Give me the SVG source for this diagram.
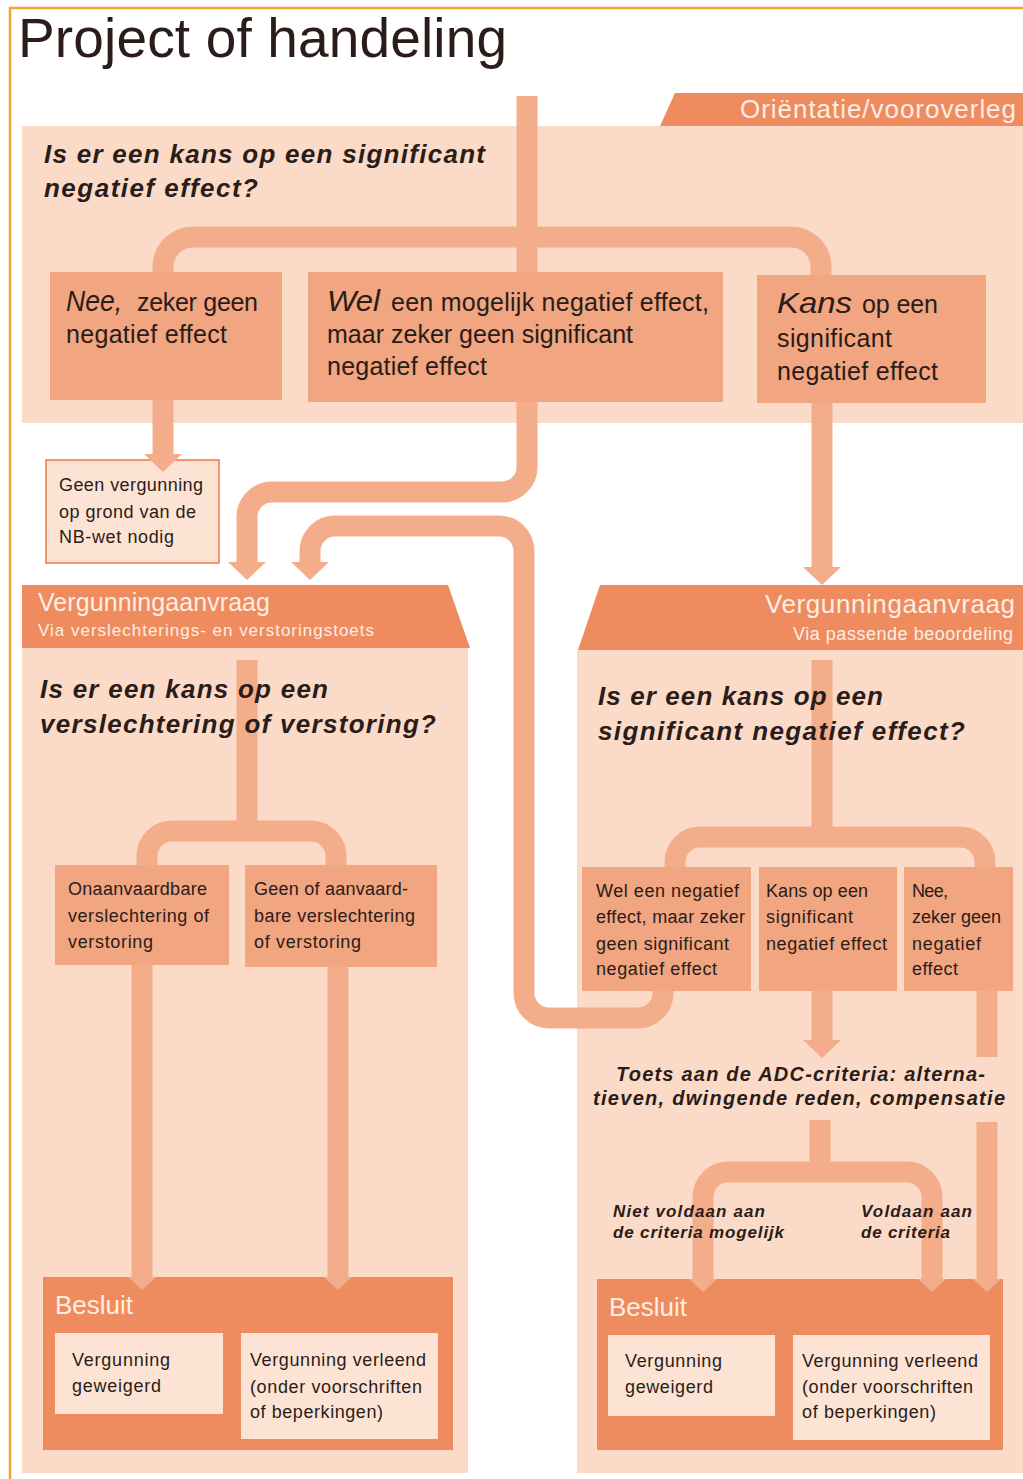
<svg xmlns="http://www.w3.org/2000/svg" xmlns:xlink="http://www.w3.org/1999/xlink" width="1023" height="1479" viewBox="0 0 1023 1479">
<style>
.pn{fill:#fbdac7}
.hd{fill:#ee8b5f}
.bx{fill:#f1a580}
.ib{fill:#fde3d4}
.cn{fill:none;stroke:#f3ad8b;stroke-width:21}
.ah{fill:#f3ad8b}
text{font-family:"Liberation Sans",Arial,sans-serif;fill:#2a1c18}
.q{font-weight:bold;font-style:italic;font-size:26px}
.ht{fill:#fdeee5}
.it{font-style:italic;font-size:30px}
.s18{font-size:18px}
.s25{font-size:25px}
</style>
<defs>
<path id="ah" class="ah" d="M-19,0 L19,0 L0,18 Z"/>
<path id="ahs" class="ah" d="M-14,0 L14,0 L0,13 Z"/>
</defs>
<rect width="1023" height="1479" fill="#ffffff"/>
<g id="frame">
<path d="M10,1479 V8 H1023" fill="none" stroke="#f0a52c" stroke-width="2.5"/>
</g>
<g id="title">
<text x="18" y="57" font-size="55" textLength="489">Project of handeling</text>
</g>

<g id="orientatie">
<rect class="pn" x="22" y="126" width="1001" height="297"/>
<path class="hd" d="M675,93 H1023 V126 H660 Z"/>
<text class="ht" x="740" y="118" font-size="26" textLength="276">Oriëntatie/vooroverleg</text>
</g>
<g id="aanvraag-links">
<rect class="pn" x="22" y="648" width="446" height="825"/>
<path class="hd" d="M22,585 H448 L470,648 H22 Z"/>
<text class="ht" x="38" y="611" font-size="25" textLength="232">Vergunningaanvraag</text>
<text class="ht" x="38" y="636" font-size="17" textLength="336">Via verslechterings- en verstoringstoets</text>
</g>
<g id="aanvraag-rechts">
<rect class="pn" x="577" y="650" width="446" height="823"/>
<path class="hd" d="M600,585 H1023 V650 H578 Z"/>
<text class="ht" x="765" y="613" font-size="26" textLength="250">Vergunningaanvraag</text>
<text class="ht" x="793" y="640" font-size="18" textLength="220">Via passende beoordeling</text>
</g>

<g id="geen-vergunning">
<rect x="46" y="460" width="173" height="103" fill="#fde3d4" stroke="#ea7a45" stroke-width="1.5"/>
<text class="s18" x="59" y="491" textLength="144">Geen vergunning</text>
<text class="s18" x="59" y="518" textLength="137">op grond van de</text>
<text class="s18" x="59" y="543" textLength="115">NB-wet nodig</text>
</g>
<g id="besluit-links">
<rect class="hd" x="43" y="1277" width="410" height="173"/>
<text class="ht" x="55" y="1314" font-size="26">Besluit</text>
<rect class="ib" x="55" y="1333" width="168" height="81"/>
<text class="s18" x="72" y="1366" textLength="98">Vergunning</text>
<text class="s18" x="72" y="1392" textLength="89">geweigerd</text>
<rect class="ib" x="241" y="1333" width="197" height="106"/>
<text class="s18" x="250" y="1366" textLength="176">Vergunning verleend</text>
<text class="s18" x="250" y="1393" textLength="172">(onder voorschriften</text>
<text class="s18" x="250" y="1418" textLength="133">of beperkingen)</text>
</g>
<g id="besluit-rechts">
<rect class="hd" x="597" y="1279" width="406" height="171"/>
<text class="ht" x="609" y="1316" font-size="26">Besluit</text>
<rect class="ib" x="608" y="1335" width="167" height="81"/>
<text class="s18" x="625" y="1367" textLength="97">Vergunning</text>
<text class="s18" x="625" y="1393" textLength="88">geweigerd</text>
<rect class="ib" x="793" y="1335" width="197" height="105"/>
<text class="s18" x="802" y="1367" textLength="176">Vergunning verleend</text>
<text class="s18" x="802" y="1393" textLength="171">(onder voorschriften</text>
<text class="s18" x="802" y="1418" textLength="134">of beperkingen)</text>
</g>

<g id="connectors">
<path class="cn" d="M527,96 V272"/>
<path class="cn" d="M163,272 V267 A30,30 0 0 1 193,237 H791 A30,30 0 0 1 821,267 V275"/>
<path class="cn" d="M163,400 V454"/>
<use xlink:href="#ah" x="163" y="454"/>
<path class="cn" d="M527,402 V467 A25,25 0 0 1 502,492 H272 A25,25 0 0 0 247,517 V562"/>
<use xlink:href="#ah" x="247" y="562"/>
<path class="cn" d="M663,991 V993 A25,25 0 0 1 638,1018 H549 A25,25 0 0 1 524,993 V551 A25,25 0 0 0 499,526 H335 A25,25 0 0 0 310,551 V562"/>
<use xlink:href="#ah" x="310" y="562"/>
<path class="cn" d="M822,403 V567"/>
<use xlink:href="#ah" x="822" y="567"/>
<path class="cn" d="M247,660 V831"/>
<path class="cn" d="M147,865 V856 A25,25 0 0 1 172,831 H311 A25,25 0 0 1 336,856 V865"/>
<path class="cn" d="M142,965 V1277"/>
<use xlink:href="#ahs" x="142" y="1277"/>
<path class="cn" d="M338,967 V1277"/>
<use xlink:href="#ahs" x="338" y="1277"/>
<path class="cn" d="M822,660 V837"/>
<path class="cn" d="M675,867 V862 A25,25 0 0 1 700,837 H960 A25,25 0 0 1 985,862 V867"/>
<path class="cn" d="M822,991 V1040"/>
<use xlink:href="#ah" x="822" y="1040"/>
<path class="cn" d="M987,991 V1057"/>
<path class="cn" d="M987,1122 V1279"/>
<use xlink:href="#ahs" x="987" y="1279"/>
<path class="cn" d="M820,1120 V1172"/>
<path class="cn" d="M703,1279 V1197 A25,25 0 0 1 728,1172 H907 A25,25 0 0 1 932,1197 V1279"/>
<use xlink:href="#ahs" x="703" y="1279"/>
<use xlink:href="#ahs" x="932" y="1279"/>
</g>

<g id="vraag-1">
<text class="q" x="44" y="163" textLength="441">Is er een kans op een significant</text>
<text class="q" x="44" y="197" textLength="214">negatief effect?</text>
</g>
<g id="nee-top">
<rect class="bx" x="50" y="272" width="232" height="128"/>
<text class="it" x="66" y="311" textLength="56" lengthAdjust="spacingAndGlyphs">Nee,</text>
<text class="s25" x="137" y="311" textLength="121">zeker geen</text>
<text class="s25" x="66" y="343" textLength="161">negatief effect</text>
</g>
<g id="wel-top">
<rect class="bx" x="308" y="272" width="415" height="130"/>
<text class="it" x="327" y="311" textLength="53" lengthAdjust="spacingAndGlyphs">Wel</text>
<text class="s25" x="391" y="311" textLength="318">een mogelijk negatief effect,</text>
<text class="s25" x="327" y="343" textLength="306">maar zeker geen significant</text>
<text class="s25" x="327" y="375" textLength="160">negatief effect</text>
</g>
<g id="kans-top">
<rect class="bx" x="757" y="275" width="229" height="128"/>
<text class="it" x="777" y="313" textLength="75" lengthAdjust="spacingAndGlyphs">Kans</text>
<text class="s25" x="862" y="313" textLength="76">op een</text>
<text class="s25" x="777" y="347" textLength="115">significant</text>
<text class="s25" x="777" y="380" textLength="161">negatief effect</text>
</g>

<g id="vraag-links">
<text class="q" x="40" y="698" textLength="288">Is er een kans op een</text>
<text class="q" x="40" y="733" textLength="396">verslechtering of verstoring?</text>
</g>
<g id="onaanvaardbaar">
<rect class="bx" x="55" y="865" width="174" height="100"/>
<text class="s18" x="68" y="895" textLength="139">Onaanvaardbare</text>
<text class="s18" x="68" y="922" textLength="141">verslechtering of</text>
<text class="s18" x="68" y="948" textLength="85">verstoring</text>
</g>
<g id="aanvaardbaar">
<rect class="bx" x="245" y="865" width="192" height="102"/>
<text class="s18" x="254" y="895" textLength="154">Geen of aanvaard-</text>
<text class="s18" x="254" y="922" textLength="161">bare verslechtering</text>
<text class="s18" x="254" y="948" textLength="107">of verstoring</text>
</g>

<g id="vraag-rechts">
<text class="q" x="598" y="705" textLength="285">Is er een kans op een</text>
<text class="q" x="598" y="740" textLength="367">significant negatief effect?</text>
</g>
<g id="wel-rechts">
<rect class="bx" x="582" y="867" width="169" height="124"/>
<text class="s18" x="596" y="897" textLength="143">Wel een negatief</text>
<text class="s18" x="596" y="923" textLength="149">effect, maar zeker</text>
<text class="s18" x="596" y="950" textLength="133">geen significant</text>
<text class="s18" x="596" y="975" textLength="121">negatief effect</text>
</g>
<g id="kans-rechts">
<rect class="bx" x="759" y="867" width="138" height="124"/>
<text class="s18" x="766" y="897" textLength="102">Kans op een</text>
<text class="s18" x="766" y="923" textLength="87">significant</text>
<text class="s18" x="766" y="950" textLength="121">negatief effect</text>
</g>
<g id="nee-rechts">
<rect class="bx" x="904" y="867" width="109" height="124"/>
<text class="s18" x="912" y="897" textLength="36">Nee,</text>
<text class="s18" x="912" y="923" textLength="89">zeker geen</text>
<text class="s18" x="912" y="950" textLength="69">negatief</text>
<text class="s18" x="912" y="975" textLength="46">effect</text>
</g>
<g id="adc-toets">
<text class="q" style="font-size:20px" x="616" y="1081" textLength="369">Toets aan de ADC-criteria: alterna-</text>
<text class="q" style="font-size:20px" x="593" y="1105" textLength="412">tieven, dwingende reden, compensatie</text>
</g>
<g id="labels-adc">
<text class="q" style="font-size:17px" x="613" y="1217" textLength="152">Niet voldaan aan</text>
<text class="q" style="font-size:17px" x="613" y="1238" textLength="171">de criteria mogelijk</text>
<text class="q" style="font-size:17px" x="861" y="1217" textLength="111">Voldaan aan</text>
<text class="q" style="font-size:17px" x="861" y="1238" textLength="89">de criteria</text>
</g>
</svg>
